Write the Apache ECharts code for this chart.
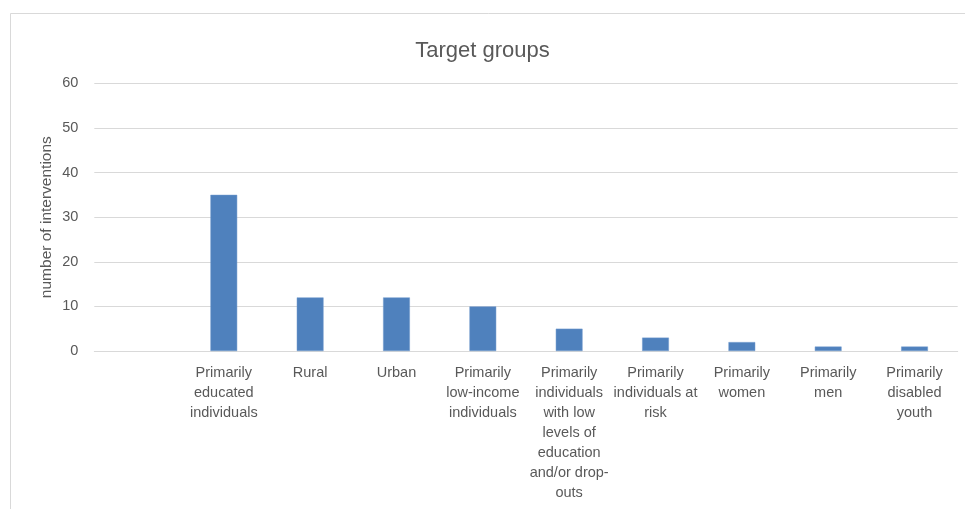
<!DOCTYPE html>
<html>
<head>
<meta charset="utf-8">
<script src="https://cdn.jsdelivr.net/npm/echarts@6/dist/echarts.min.js"></script>
<style>
  html, body { margin: 0; padding: 0; background: #ffffff; }
  #chart { width: 965px; height: 509px; }
</style>
</head>
<body>
<div id="chart"></div>
<script>
// Target groups of the interventions (first slot intentionally left blank)
const categories = [
  '',
  'Primarily\neducated\nindividuals',
  'Rural',
  'Urban',
  'Primarily\nlow-income\nindividuals',
  'Primarily\nindividuals\nwith low\nlevels of\neducation\nand/or drop-\nouts',
  'Primarily\nindividuals at\nrisk',
  'Primarily\nwomen',
  'Primarily\nmen',
  'Primarily\ndisabled\nyouth'
];
const interventions = [null, 35, 12, 12, 10, 5, 3, 2, 1, 1];
const yTicks = { min: 0, max: 60, interval: 10 };

const textColor = '#595959';
const fontFamily = '"Liberation Sans", Arial, sans-serif';

const chart = echarts.init(document.getElementById('chart'), null, { renderer: 'canvas' });
chart.setOption({
  animation: false,
  backgroundColor: '#ffffff',
  textStyle: { fontFamily: fontFamily },
  graphic: [{
    type: 'rect',
    shape: { x: 10.5, y: 13.5, width: 1000, height: 600 },
    style: { fill: 'none', stroke: '#d9d9d9', lineWidth: 1 },
    silent: true
  }],
  title: {
    text: 'Target groups',
    left: 'center',
    top: 35,
    textStyle: { color: textColor, fontSize: 22, fontWeight: 'normal', fontFamily: fontFamily }
  },
  grid: { left: 94.3, right: 7.3, top: 83.3, bottom: 158 },
  xAxis: {
    type: 'category',
    data: categories,
    axisLine: { lineStyle: { color: '#d9d9d9', width: 1 } },
    axisTick: { show: false },
    axisLabel: {
      interval: 0,
      margin: 12,
      color: textColor,
      fontSize: 14.5,
      lineHeight: 20,
      align: 'center',
      fontFamily: fontFamily
    }
  },
  yAxis: {
    type: 'value',
    min: yTicks.min,
    max: yTicks.max,
    interval: yTicks.interval,
    name: 'number of interventions',
    nameLocation: 'middle',
    nameGap: 40,
    nameMoveOverlap: false,
    nameTextStyle: { color: textColor, fontSize: 15.5, fontFamily: fontFamily },
    axisLine: { show: false },
    axisTick: { show: false },
    axisLabel: { color: textColor, fontSize: 14.5, margin: 16, fontFamily: fontFamily },
    splitLine: { lineStyle: { color: '#d9d9d9', width: 1 } }
  },
  series: [{
    type: 'bar',
    data: interventions,
    barWidth: '31%',
    itemStyle: { color: '#4f81bd', borderColor: '#6f98cc', borderWidth: 0.5 }
  }]
});
</script>
</body>
</html>
